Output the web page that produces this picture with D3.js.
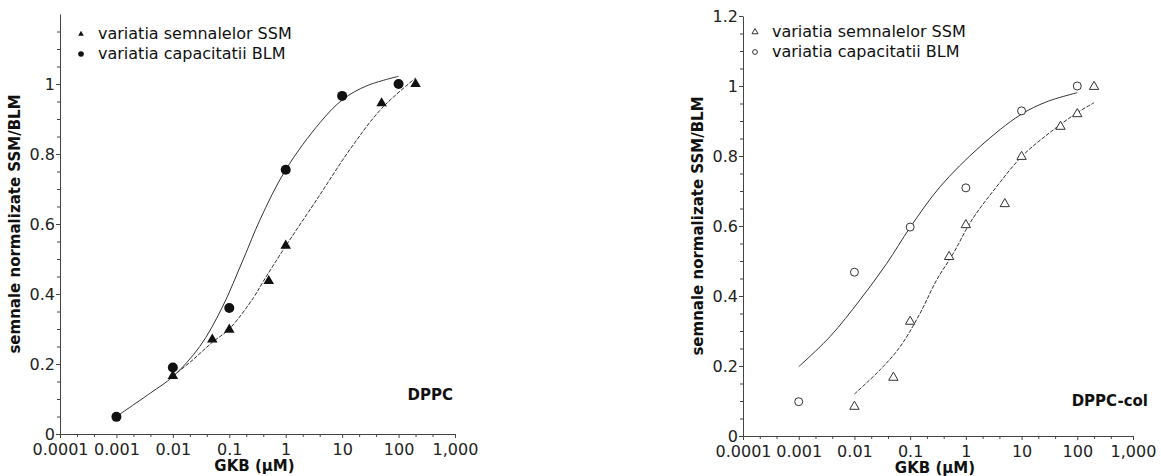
<!DOCTYPE html>
<html>
<head>
<meta charset="utf-8">
<script src="https://cdnjs.cloudflare.com/ajax/libs/d3/7.8.5/d3.min.js"></script>
<style>
  body { margin: 0; background: #fff; }
  svg { font-family: "DejaVu Sans", sans-serif; }
</style>
</head>
<body>
<div id="chart"></div>
<script>
// x ticks (log scale) and y ticks
var xTicks = [0.0001, 0.001, 0.01, 0.1, 1, 10, 100, 1000];
var xMinorMult = [2, 4];
var yTicksLeft = [0, 0.2, 0.4, 0.6, 0.8, 1];
var yTicksRight = [0, 0.2, 0.4, 0.6, 0.8, 1, 1.2];

var legendLabels = ["variatia semnalelor SSM", "variatia capacitatii BLM"];

// DPPC - measured points
var dppcSsm = [[0.01, 0.166], [0.05, 0.27], [0.1, 0.298], [0.5, 0.437], [1, 0.538], [50, 0.945], [200, 1.0]];
var dppcBlm = [[0.001, 0.049], [0.01, 0.19], [0.1, 0.36], [1, 0.755], [10, 0.966], [100, 1.0]];
// DPPC - fitted curves
var dppcBlmFit = [[0.001, 0.05], [0.004, 0.117], [0.01, 0.164], [0.03, 0.25], [0.074, 0.36], [0.178, 0.5],
  [0.352, 0.613], [1, 0.755], [4.07, 0.89], [10.5, 0.957], [27.4, 0.995], [100, 1.022]];
var dppcSsmFit = [[0.01, 0.165], [0.023, 0.213], [0.05, 0.262], [0.1, 0.3], [0.27, 0.39], [0.4, 0.436],
  [1, 0.537], [3.56, 0.67], [13.9, 0.814], [50, 0.93], [200, 1.017]];

// DPPC-col - measured points
var colSsm = [[0.01, 0.084], [0.05, 0.167], [0.1, 0.327], [0.5, 0.512], [1, 0.603], [5, 0.663],
  [10, 0.798], [50, 0.884], [100, 0.92], [200, 0.998]];
var colBlm = [[0.001, 0.098], [0.01, 0.468], [0.1, 0.597], [1, 0.709], [10, 0.929], [100, 1.0]];
// DPPC-col - fitted curves
var colBlmFit = [[0.001, 0.198], [0.00365, 0.284], [0.0126, 0.389], [0.038, 0.493], [0.1, 0.596],
  [0.344, 0.712], [1.8, 0.827], [9.4, 0.917], [28.3, 0.955], [100, 0.981]];
var colSsmFit = [[0.01, 0.12], [0.0288, 0.189], [0.066, 0.255], [0.15, 0.35], [0.3, 0.446], [0.597, 0.522],
  [1.28, 0.617], [3.55, 0.712], [10, 0.798], [28.3, 0.86], [100, 0.924], [200, 0.952]];

var svg = d3.select("#chart").append("svg")
  .attr("width", 1161)
  .attr("height", 476);

function drawPanel(p) {
  var x = d3.scaleLog().domain([0.0001, 1000]).range([p.x0, p.x1]);
  var y = d3.scaleLinear().domain([0, 1.2]).range([p.yBottom, p.yTop]);
  var g = svg.append("g");

  // minor ticks
  var xMinor = [];
  xTicks.slice(0, -1).forEach(function (t) {
    xMinorMult.forEach(function (m) { xMinor.push(t * m); });
  });
  var yMinor = d3.range(0, 1.2001, 0.05).filter(function (v) { return Math.abs(v * 5 - Math.round(v * 5)) > 0.01; });

  g.append("g")
    .attr("transform", "translate(0," + p.yBottom + ")")
    .call(d3.axisBottom(x).tickValues(xMinor).tickSize(3).tickFormat(""))
    .call(function (a) { a.select(".domain").remove(); });
  g.append("g")
    .attr("transform", "translate(" + p.x0 + ",0)")
    .call(d3.axisLeft(y).tickValues(yMinor).tickSize(3).tickFormat(""))
    .call(function (a) { a.select(".domain").remove(); });

  var xa = g.append("g")
    .attr("transform", "translate(0," + p.yBottom + ")")
    .call(d3.axisBottom(x).tickValues(xTicks).tickSize(4).tickSizeOuter(0).tickPadding(6).tickFormat(d3.format(",")));
  var ya = g.append("g")
    .attr("transform", "translate(" + p.x0 + ",0)")
    .call(d3.axisLeft(y).tickValues(p.yTicks).tickSize(4).tickSizeOuter(0).tickPadding(1).tickFormat(function (d) { return d; }));

  [xa, ya].forEach(function (a) {
    a.selectAll("text").attr("font-size", 16).attr("font-family", "DejaVu Sans").attr("fill", "#222");
  });
  g.selectAll(".domain, .tick line").attr("stroke", "#444");

  // curves
  var line = d3.line()
    .x(function (d) { return x(d[0]); })
    .y(function (d) { return y(d[1]); })
    .curve(d3.curveCatmullRom.alpha(0.5));

  g.append("path").datum(p.blmFit)
    .attr("d", line).attr("fill", "none").attr("stroke", "#333").attr("stroke-width", 1);
  g.append("path").datum(p.ssmFit)
    .attr("d", line).attr("fill", "none").attr("stroke", "#333").attr("stroke-width", 1)
    .attr("stroke-dasharray", "4,1.5");

  var fill = p.filled ? "#111" : "#fff";
  var stroke = p.filled ? "none" : "#333";

  g.selectAll(".tri").data(p.ssm).enter().append("path")
    .attr("d", d3.symbol().type(d3.symbolTriangle).size(p.filled ? 48 : 38))
    .attr("transform", function (d) { return "translate(" + x(d[0]) + "," + y(d[1]) + ")"; })
    .attr("fill", fill).attr("stroke", stroke);

  g.selectAll(".circ").data(p.blm).enter().append("circle")
    .attr("cx", function (d) { return x(d[0]); })
    .attr("cy", function (d) { return y(d[1]); })
    .attr("r", p.filled ? 5 : 4)
    .attr("fill", fill).attr("stroke", stroke);

  // legend
  var lg = g.append("g");
  lg.append("path")
    .attr("d", d3.symbol().type(d3.symbolTriangle).size(p.filled ? 14 : 16))
    .attr("transform", "translate(" + p.legX + "," + (p.legY - 5) + ")")
    .attr("fill", fill).attr("stroke", stroke);
  lg.append("circle")
    .attr("cx", p.legX).attr("cy", p.legY + 15).attr("r", p.filled ? 2.8 : 2.4)
    .attr("fill", fill).attr("stroke", stroke);
  lg.selectAll("text").data(legendLabels).enter().append("text")
    .text(function (d) { return d; })
    .attr("x", p.legX + 17)
    .attr("y", function (d, i) { return p.legY + i * 20; })
    .attr("font-size", 16)
    .attr("fill", "#111");

  // titles
  g.append("text")
    .text(p.name)
    .attr("x", p.nameX).attr("y", p.nameY)
    .attr("text-anchor", "end")
    .attr("font-size", 15).attr("font-weight", "bold").attr("fill", "#111");

  g.append("text")
    .text("GKB (μM)")
    .attr("x", (p.x0 + p.x1) / 2 - 3).attr("y", p.yBottom + 37)
    .attr("text-anchor", "middle")
    .attr("font-size", 15).attr("font-weight", "bold").attr("fill", "#111");

  g.append("text")
    .text("semnale normalizate SSM/BLM")
    .attr("transform", "translate(" + (p.x0 - 40) + "," + ((p.yTop + p.yBottom) / 2) + ") rotate(-90)")
    .attr("text-anchor", "middle")
    .attr("font-size", 15).attr("font-weight", "bold").attr("fill", "#111");
}

drawPanel({
  x0: 60, x1: 455, yTop: 14, yBottom: 434,
  yTicks: yTicksLeft, filled: true,
  ssm: dppcSsm, blm: dppcBlm, ssmFit: dppcSsmFit, blmFit: dppcBlmFit,
  legX: 81, legY: 39, name: "DPPC", nameX: 453, nameY: 400
});

drawPanel({
  x0: 743, x1: 1133, yTop: 16, yBottom: 436,
  yTicks: yTicksRight, filled: false,
  ssm: colSsm, blm: colBlm, ssmFit: colSsmFit, blmFit: colBlmFit,
  legX: 755, legY: 37, name: "DPPC-col", nameX: 1148, nameY: 406
});
</script>
</body>
</html>
